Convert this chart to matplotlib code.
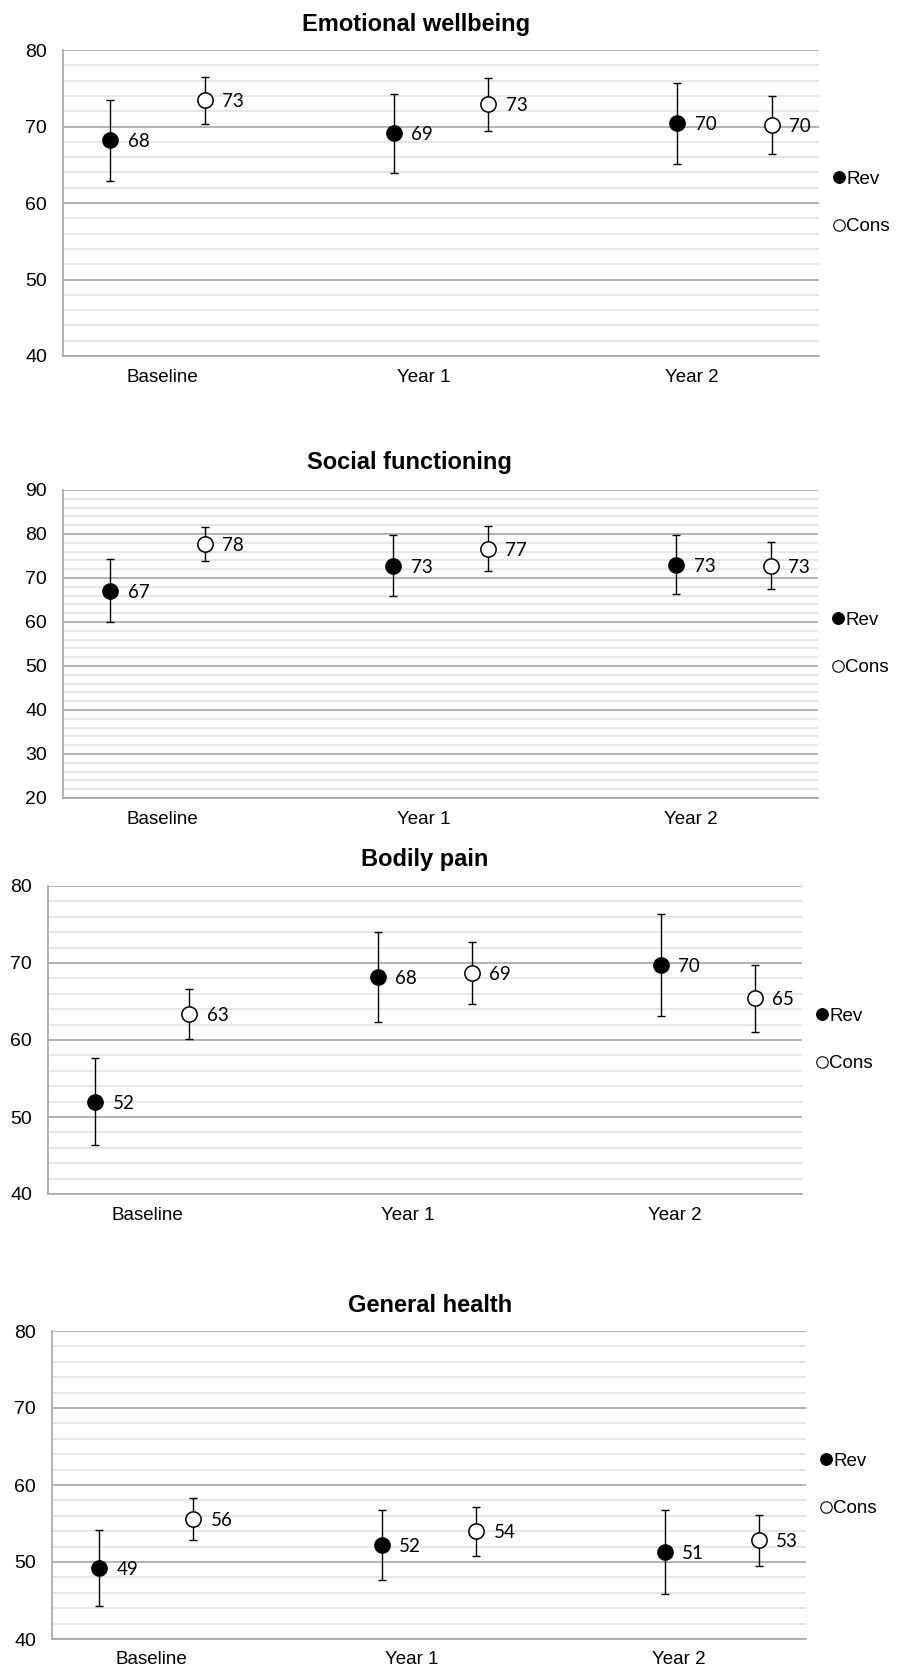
import matplotlib
matplotlib.use("Agg")
import matplotlib.pyplot as plt
from matplotlib.ticker import MultipleLocator, FixedLocator, NullLocator

# ---- data -------------------------------------------------------------
titles = ["Emotional wellbeing", "Social functioning", "Bodily pain", "General health"]
timepoints = ["Baseline", "Year 1", "Year 2"]
series_names = ["Rev", "Cons"]

# mean score and half-width of the error bar at each time point
ew_rev = [68.2, 69.1, 70.4]
ew_rev_err = [5.3, 5.2, 5.3]
ew_cons = [73.4, 72.9, 70.2]
ew_cons_err = [3.05, 3.5, 3.8]

sf_rev = [67.1, 72.8, 73.0]
sf_rev_err = [7.2, 7.0, 6.7]
sf_cons = [77.7, 76.7, 72.8]
sf_cons_err = [3.9, 5.2, 5.3]

bp_rev = [52.0, 68.2, 69.7]
bp_rev_err = [5.7, 5.8, 6.6]
bp_cons = [63.4, 68.7, 65.4]
bp_cons_err = [3.25, 4.0, 4.3]

gh_rev = [49.2, 52.2, 51.3]
gh_rev_err = [4.9, 4.5, 5.5]
gh_cons = [55.6, 54.0, 52.8]
gh_cons_err = [2.7, 3.2, 3.35]

y_limits = [(40, 80), (20, 90), (40, 80), (40, 80)]

panels = [
    (ew_rev, ew_rev_err, ew_cons, ew_cons_err),
    (sf_rev, sf_rev_err, sf_cons, sf_cons_err),
    (bp_rev, bp_rev_err, bp_cons, bp_cons_err),
    (gh_rev, gh_rev_err, gh_cons, gh_cons_err),
]

# ---- layout (pixels) --------------------------------------------------
W, H = 904, 1672
axes_px = [(63, 50, 819, 356), (63, 490, 818, 798),
           (48, 886, 802, 1194), (52, 1331, 806, 1639)]
title_px = [(416, 30.5), (409, 469), (425, 866.5), (430, 1311.5)]

group_start = [0, 3, 6]
rev_x = [g + 0.5 for g in group_start]
cons_x = [g + 1.5 for g in group_start]
label_x = [1.05, 3.82, 6.65]

MAJOR = "#a6a6a6"
MINOR = "#e2e2e2"
AXFONT = "Liberation Sans"
LABFONT = "Lato"

plt.rcParams["font.family"] = [AXFONT, "DejaVu Sans"]

fig = plt.figure(figsize=(W / 100, H / 100), dpi=100)
fig.patch.set_facecolor("white")

for i, (rv, re, cv, ce) in enumerate(panels):
    l, t, r, b = axes_px[i]
    ax = fig.add_axes([l / W, 1 - b / H, (r - l) / W, (b - t) / H])
    ax.set_xlim(0, 8)
    ax.set_ylim(*y_limits[i])

    ax.yaxis.set_major_locator(MultipleLocator(10))
    ax.yaxis.set_minor_locator(MultipleLocator(2))
    ax.xaxis.set_major_locator(FixedLocator(label_x))
    ax.xaxis.set_minor_locator(NullLocator())
    ax.set_xticklabels(timepoints)
    ax.tick_params(axis="both", which="both", length=0)
    ax.tick_params(axis="y", pad=11.5, labelsize=14)
    ax.tick_params(axis="x", pad=9, labelsize=13.5)

    ax.grid(True, axis="y", which="major", color=MAJOR, lw=1.2)
    ax.grid(True, axis="y", which="minor", color=MINOR, lw=1.2)
    ax.set_axisbelow(True)
    for side in ("right", "top"):
        ax.spines[side].set_visible(False)
    for side in ("left", "bottom"):
        ax.spines[side].set_color(MAJOR)
        ax.spines[side].set_linewidth(1.2)

    ax.errorbar(rev_x, rv, yerr=re, fmt="none", ecolor="black",
                elinewidth=1.0, capsize=3.1, capthick=1.0, zorder=3)
    ax.errorbar(cons_x, cv, yerr=ce, fmt="none", ecolor="black",
                elinewidth=1.0, capsize=3.1, capthick=1.0, zorder=3)
    h_rev, = ax.plot(rev_x, rv, ls="none", marker="o", ms=11, mfc="black",
                     mec="black", mew=1.0, zorder=4, label=series_names[0])
    h_cons, = ax.plot(cons_x, cv, ls="none", marker="o", ms=11, mfc="white",
                      mec="black", mew=1.1, zorder=4, label=series_names[1])

    for xs, vals in ((rev_x, rv), (cons_x, cv)):
        for x, v in zip(xs, vals):
            ax.annotate(f"{v:.0f}", (x, v), xytext=(12.5, 0),
                        textcoords="offset points", ha="left",
                        va="center_baseline", fontsize=13.5, family=LABFONT,
                        color="black", zorder=5)

    leg = ax.legend(handles=[h_rev, h_cons], loc="center left",
                    bbox_to_anchor=(1.0, 0.5), frameon=False,
                    handlelength=0.7, handletextpad=0.05, labelspacing=1.6,
                    borderaxespad=0.7, borderpad=0, markerscale=0.75,
                    prop={"size": 13.5})
    leg.legend_handles[1].set_markeredgewidth(0.8)

    tx, ty = title_px[i]
    fig.text(tx / W, 1 - ty / H, titles[i], ha="center", va="baseline",
             fontsize=17, fontweight="bold")

fig.savefig("out.png", dpi=100, facecolor="white")
